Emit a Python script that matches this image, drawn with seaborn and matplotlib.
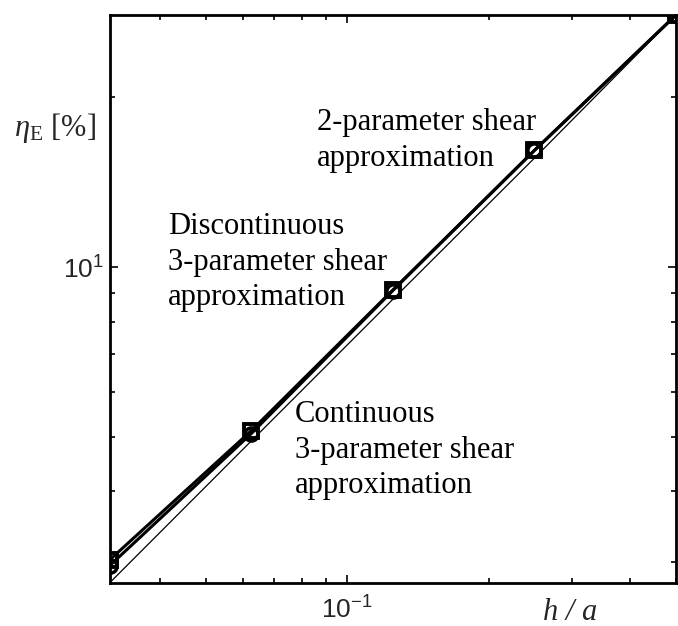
import numpy as np
import pandas as pd
import matplotlib
matplotlib.use("Agg")
import matplotlib.pyplot as plt
from matplotlib import ticker
import seaborn as sns

# values (log-log, error vs. thickness ratio)
h_a = [1/32, 1/16, 1/8, 1/4, 1/2]
eta_2par = [3.02, 5.12, 9.10, 16.1, 28.0]     # 2-parameter shear, squares
eta_disc3 = [2.95, 5.06, 9.08, 16.1, 28.0]    # discontinuous 3-parameter, circles
eta_cont3 = [2.75, 4.91, 8.76, 15.6, 28.0]    # continuous 3-parameter, thin line

x_ticklabel = r"$\mathdefault{10^{-1}}$"
y_ticklabel = r"$\mathdefault{10^{1}}$"

#style
sns.set_theme(style="ticks")
plt.rcParams.update({
    "font.family": ["Liberation Sans", "DejaVu Sans"],
    "mathtext.fontset": "custom",
    "mathtext.rm": "Liberation Serif",
    "mathtext.it": "Liberation Serif:italic",
    "axes.edgecolor": "black",
    "axes.linewidth": 2.0,
})

W, H = 678, 626
fig = plt.figure(figsize=(W / 100, H / 100), dpi=100)
L, R, T, B = 109.5, 676, 15, 583
ax = fig.add_axes([L / W, 1 - B / H, (R - L) / W, (B - T) / H])
ax.set_xscale("log")
ax.set_yscale("log")

sns.lineplot(x=h_a, y=eta_cont3, ax=ax, color="black", lw=0.9)
sns.lineplot(x=h_a, y=eta_disc3, ax=ax, color="black", lw=2.2,
             marker="o", ms=9.5, mfc="none", mec="black", mew=2.5)
sns.lineplot(x=h_a, y=eta_2par, ax=ax, color="black", lw=2.2,
             marker="s", ms=9.5, mfc="none", mec="black", mew=2.8)

ax.set_xlim(1/32, 1/2)
ax.set_ylim(2.75, 28)

ax.xaxis.set_major_locator(ticker.FixedLocator([0.1]))
ax.xaxis.set_major_formatter(ticker.FixedFormatter([x_ticklabel]))
ax.yaxis.set_major_locator(ticker.FixedLocator([10]))
ax.yaxis.set_major_formatter(ticker.FixedFormatter([y_ticklabel]))
ax.xaxis.set_minor_locator(ticker.LogLocator(subs=np.arange(2, 10)))
ax.yaxis.set_minor_locator(ticker.LogLocator(subs=np.arange(2, 10)))
ax.xaxis.set_minor_formatter(ticker.NullFormatter())
ax.yaxis.set_minor_formatter(ticker.NullFormatter())

ax.tick_params(which="both", direction="in", top=True, right=True,
               color="black", width=1.2)
ax.tick_params(which="major", length=6, labelsize=19)
ax.tick_params(axis="x", which="major", pad=10)
ax.tick_params(axis="y", which="major", pad=4)
ax.tick_params(which="minor", length=3.5)
ax.set_xlabel("")
ax.set_ylabel("")
ax.grid(False)

for sp in ax.spines.values():
    sp.set_visible(True)
    sp.set_linewidth(2.0)
    sp.set_color("black")

def axfrac(px, py):
    return (px - L) / (R - L), (B - py) / (B - T)

txt = dict(family="Liberation Serif", fontsize=22, ha="left", va="top",
           color="black", linespacing=1.3, transform=ax.transAxes)
ax.text(*axfrac(317, 108), "2-parameter shear\napproximation", **txt)
ax.text(*axfrac(168, 212), "Discontinuous\n3-parameter shear\napproximation", **txt)
ax.text(*axfrac(295, 400), "Continuous\n3-parameter shear\napproximation", **txt)

fig.text(55 / W, 1 - 128 / H, r"$\eta_{\mathrm{E}}$ [%]", family="Liberation Serif",
         fontsize=22, ha="center", va="center")
fig.text(570 / W, 1 - 612 / H, "h / a", family="Liberation Serif", style="italic",
         fontsize=22, ha="center", va="center")

fig.savefig("out.png", dpi=100)
